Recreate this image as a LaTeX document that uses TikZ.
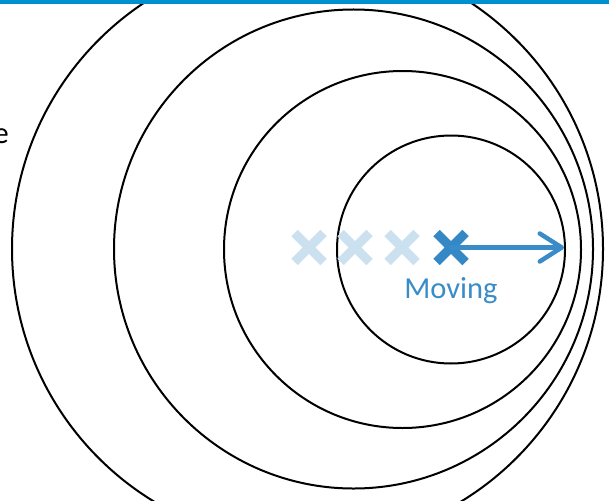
\documentclass[tikz,border=0pt]{standalone}
\usepackage{fontspec}
\setmainfont{Carlito}
\usetikzlibrary{arrows.meta,shapes.misc}
\definecolor{topbar}{RGB}{0,144,208}
\definecolor{movblue}{RGB}{58,140,200}
\definecolor{darkx}{RGB}{52,136,198}
\definecolor{lightx}{RGB}{204,225,240}
\tikzset{
  ring/.style={circle, draw=black, line width=2pt, inner sep=0pt},
  xmark/.style={cross out, draw=#1, line width=9pt, minimum size=20pt, inner sep=0pt},
  movearrow/.style={draw=movblue, line width=4.5pt, line cap=round,
    -{Straight Barb[length=22pt,width=28pt,round]}},
  lbl/.style={font=\fontsize{30.5}{36}\selectfont, inner sep=0pt}
}
\begin{document}
\begin{tikzpicture}[x=1pt,y=-1pt]
\useasboundingbox (0,0) rectangle (609,500);
% circles
\node[ring, minimum size=591pt] (c4) at (307.5,249) {};
\node[ring, minimum size=479pt] (c3) at (353.5,249) {};
\node[ring, minimum size=357pt] (c2) at (402.5,249.5) {};
\node[ring, minimum size=228pt] (c1) at (451,249.5) {};
% top bar
\fill[topbar] (0,0) rectangle (609,4);
% faded crosses
\node[xmark=lightx] (x4) at (309,247.5) {};
\node[xmark=lightx] (x3) at (355,247.5) {};
\node[xmark=lightx] (x2) at (402,247.5) {};
% arrow
\coordinate (tip) at (c1.east |- 0,247.5);
\node[xmark=darkx] (x1) at (451,247.5) {};
\draw[movearrow] (x1.center) -- ([xshift=-2pt]tip);
% label
\node[lbl, text=movblue, anchor=base] (mv) at (451,298) {Moving};
\node[lbl, text=black, anchor=base east] (etext) at (9,143) {e};
\end{tikzpicture}
\end{document}
